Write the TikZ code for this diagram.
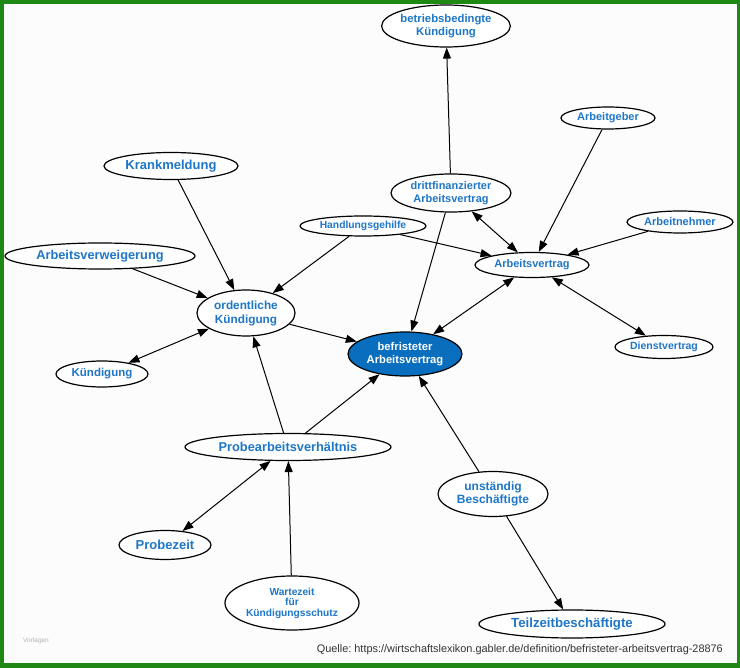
\documentclass[tikz,border=0pt]{standalone}
\usepackage{fontspec}
\setmainfont{Liberation Sans}
\usetikzlibrary{shapes.geometric,arrows.meta}
\definecolor{frame}{RGB}{31,135,20}
\definecolor{txt}{RGB}{30,118,200}
\definecolor{cfill}{RGB}{10,110,190}
\definecolor{bg}{RGB}{252,252,252}
\tikzset{
  ell/.style={ellipse,draw=black,line width=1.2pt,fill=white,inner sep=0pt,
    text=txt,font=\bfseries,align=center},
  ed/.style={line width=1pt,-{Triangle[length=11pt,width=8pt]}},
  bed/.style={line width=1pt,{Triangle[length=11pt,width=8pt]}-{Triangle[length=11pt,width=8pt]}},
}
\newcommand{\fs}[2]{\fontsize{#1}{#2}\selectfont}
\frenchspacing
\begin{document}
\begin{tikzpicture}[x=1pt,y=-1pt]
\useasboundingbox (0,0) rectangle (740,668);
\fill[frame] (0,0) rectangle (740,668);
\fill[bg] (4,4) rectangle (737,663);

\node[ell,minimum width=128pt,minimum height=42pt,font=\bfseries\fs{11.3}{13}] (bb) at (446,26) {betriebsbedingte\\Kündigung};
\node[ell,minimum width=94pt,minimum height=22pt,font=\bfseries\fs{11}{12}] (ag) at (608,118) {Arbeitgeber};
\node[ell,minimum width=120pt,minimum height=38pt,font=\bfseries\fs{11}{12.5}] (df) at (451,193) {drittfinanzierter\\Arbeitsvertrag};
\node[ell,minimum width=106pt,minimum height=22pt,font=\bfseries\fs{11}{12}] (an) at (680,222) {Arbeitnehmer};
\node[ell,minimum width=134pt,minimum height=27pt,font=\bfseries\fs{13}{15}] (km) at (171,166) {Krankmeldung};
\node[ell,minimum width=126pt,minimum height=20pt,font=\bfseries\fs{10.3}{12}] (hg) at (363,226) {Handlungsgehilfe};
\node[ell,minimum width=190pt,minimum height=26pt,font=\bfseries\fs{12.8}{15}] (av) at (100,256) {Arbeitsverweigerung};
\node[ell,minimum width=98pt,minimum height=46pt,font=\bfseries\fs{11.8}{14}] (ok) at (246,313) {ordentliche\\Kündigung};
\node[ell,minimum width=92pt,minimum height=26pt,font=\bfseries\fs{11.5}{13}] (kd) at (102,374) {Kündigung};
\node[ell,minimum width=114pt,minimum height=25pt,font=\bfseries\fs{11}{13}] (avt) at (532,265) {Arbeitsvertrag};
\node[ell,fill=cfill,text=white,minimum width=114pt,minimum height=44pt,font=\bfseries\fs{11.2}{13}] (bf) at (405,354) {befristeter\\Arbeitsvertrag};
\node[ell,minimum width=98pt,minimum height=23pt,font=\bfseries\fs{10.5}{12}] (dv) at (664,347) {Dienstvertrag};
\node[ell,minimum width=206pt,minimum height=27pt,font=\bfseries\fs{12.8}{15}] (pa) at (288,447) {Probearbeitsverhältnis};
\node[ell,minimum width=110pt,minimum height=45pt,font=\bfseries\fs{12}{13.5}] (ub) at (493,494) {unständig\\Beschäftigte};
\node[ell,minimum width=92pt,minimum height=29pt,font=\bfseries\fs{13}{15}] (pz) at (165,545) {Probezeit};
\node[ell,minimum width=134pt,minimum height=54pt,font=\bfseries\fs{10.2}{10.5}] (wz) at (292,603) {Wartezeit\\für\\Kündigungsschutz};
\node[ell,minimum width=186pt,minimum height=28pt,font=\bfseries\fs{13.2}{15}] (tz) at (572,624) {Teilzeitbeschäftigte};

\node[anchor=east,text=black!80,font=\fs{10.9}{13},inner sep=0pt] (q) at (723,650) {Quelle: https://wirtschaftslexikon.gabler.de/definition/befristeter-arbeitsvertrag-28876};
\node[anchor=west,text=black!30,font=\fs{6.5}{8},inner sep=0pt] (vl) at (23,641) {Vorlagen};

\draw[ed] (df) -- (bb);
\draw[ed] (ag) -- (avt);
\draw[ed] (an) -- (avt);
\draw[bed] (df) -- (avt);
\draw[ed] (hg) -- (avt);
\draw[ed] (hg) -- (ok);
\draw[ed] (df) -- (bf);
\draw[bed] (avt) -- (bf);
\draw[bed] (avt) -- (dv);
\draw[ed] (km) -- (ok);
\draw[ed] (av) -- (ok);
\draw[bed] (ok) -- (kd);
\draw[ed] (ok) -- (bf);
\draw[ed] (pa) -- (ok);
\draw[ed] (pa) -- (bf);
\draw[ed] (ub) -- (bf);
\draw[ed] (ub) -- (tz);
\draw[bed] (pz) -- (pa);
\draw[ed] (wz) -- (pa);
\end{tikzpicture}
\end{document}
